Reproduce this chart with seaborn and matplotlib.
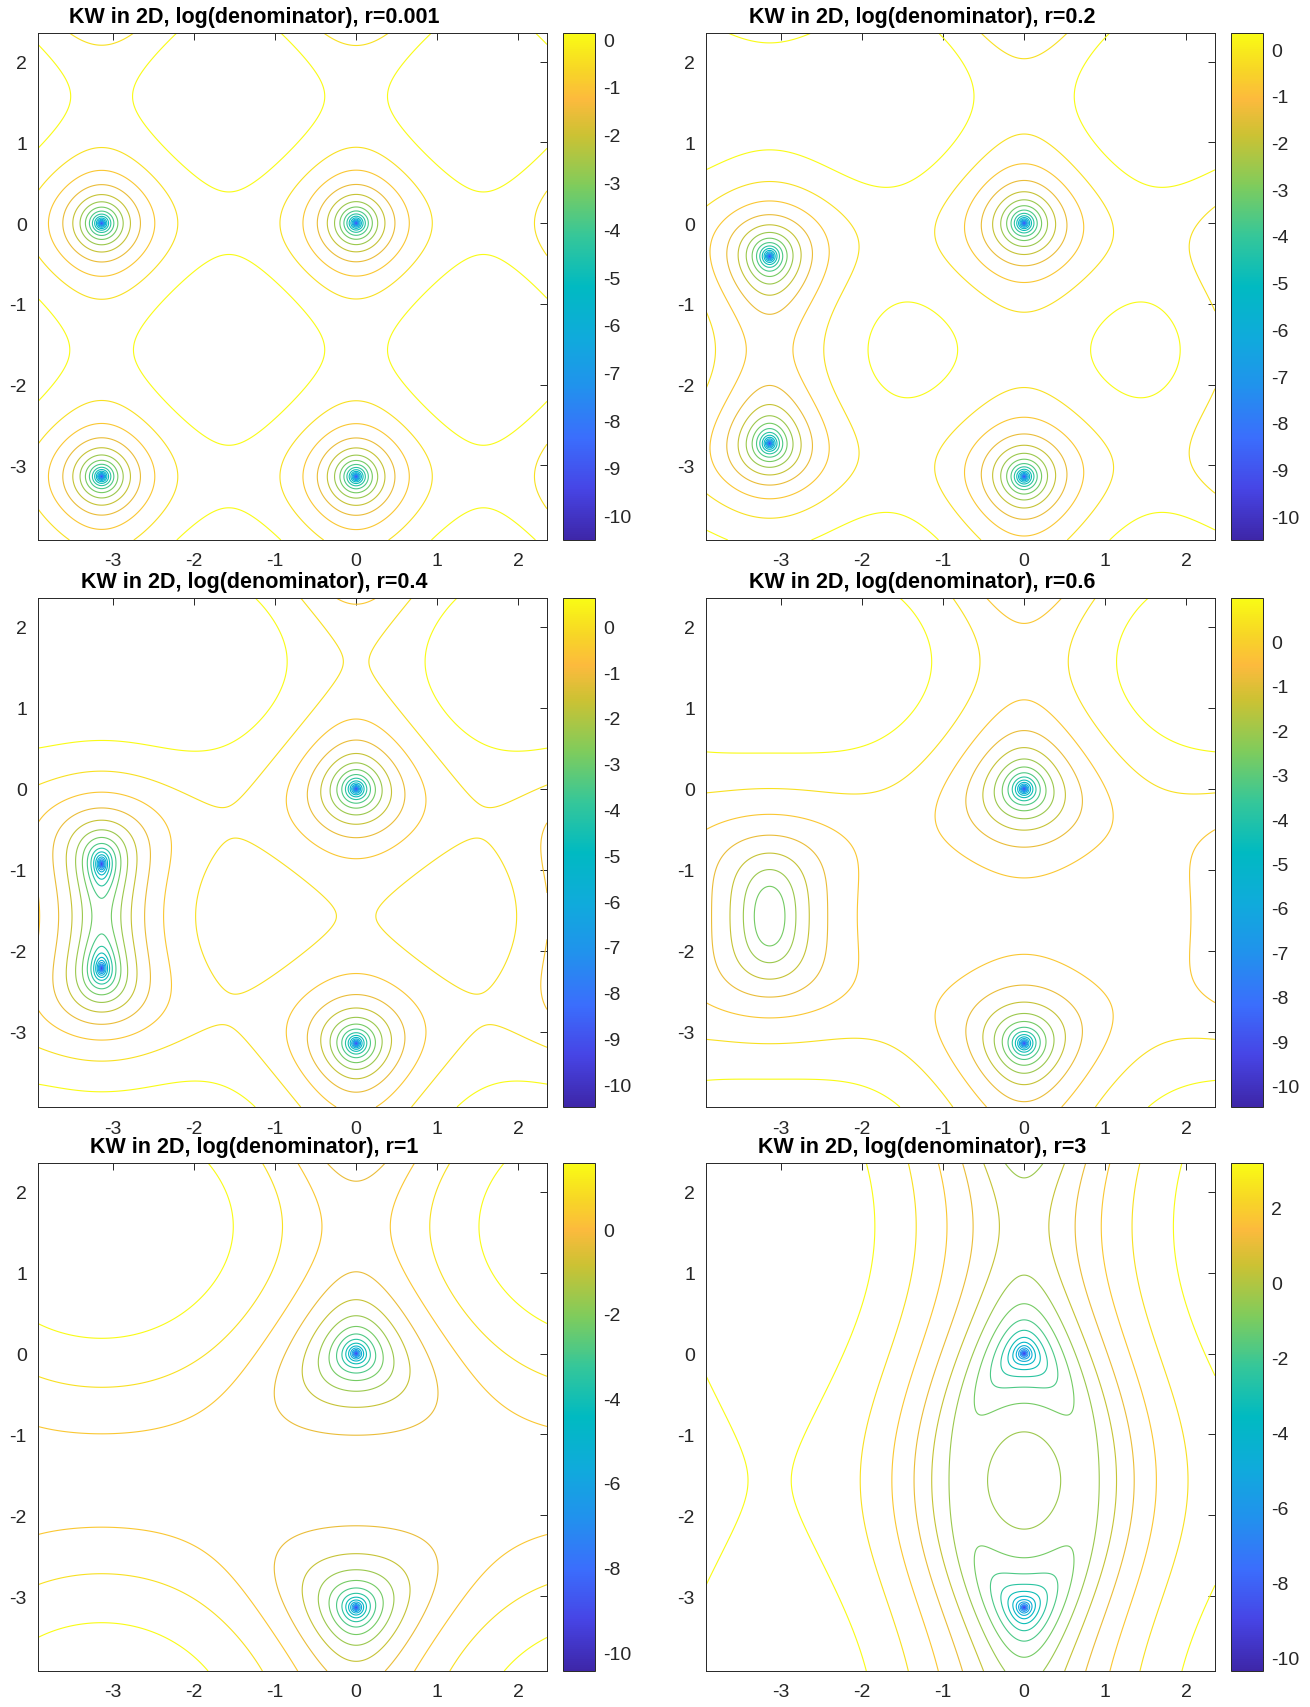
import numpy as np
import matplotlib
matplotlib.use("Agg")
import matplotlib.pyplot as plt
import seaborn as sns
from matplotlib.colors import LinearSegmentedColormap, Normalize
from matplotlib.cm import ScalarMappable

# ---- data ----
r_values = [0.001, 0.2, 0.4, 0.6, 1, 3]
r_labels = ["0.001", "0.2", "0.4", "0.6", "1", "3"]
title_prefix = "KW in 2D, log(denominator), r="
log_floor = -11.08          # lowest log value reached on the sampled grid
n_levels = 20               # contour lines per panel
cbar_ticks = [list(range(0, -11, -1)), list(range(0, -11, -1)),
              list(range(0, -11, -1)), list(range(0, -11, -1)),
              list(range(0, -11, -2)), list(range(2, -11, -2))]
axis_ticks = [-3, -2, -1, 0, 1, 2]
x_range = [-5 * np.pi / 4, 3 * np.pi / 4]
y_range = [-5 * np.pi / 4, 3 * np.pi / 4]

sns.set_style("white")
plt.rcParams['font.family'] = ['Liberation Sans', 'DejaVu Sans']

parula = LinearSegmentedColormap.from_list("parula", [
    (0.00, (0.2422, 0.1504, 0.6603)),
    (0.10, (0.2760, 0.2700, 0.9000)),
    (0.20, (0.2300, 0.4300, 0.9900)),
    (0.30, (0.1300, 0.5700, 0.9300)),
    (0.40, (0.0600, 0.6700, 0.8600)),
    (0.50, (0.0000, 0.7300, 0.7600)),
    (0.60, (0.2100, 0.7800, 0.6000)),
    (0.70, (0.5000, 0.8000, 0.3600)),
    (0.80, (0.8000, 0.7600, 0.2000)),
    (0.87, (0.9900, 0.7300, 0.2400)),
    (0.93, (0.9700, 0.8400, 0.1500)),
    (1.00, (0.9769, 0.9839, 0.0805)),
])

W, H = 1310, 1708
fig = plt.figure(figsize=(W / 100, H / 100), dpi=100)

cols = [(38, 547, 563, 595), (706, 1215, 1231, 1263)]
rows = [(34, 541), (599, 1108), (1164, 1672)]

x = np.linspace(x_range[0], x_range[1], 700)
y = np.linspace(y_range[0], y_range[1], 700)
X, Y = np.meshgrid(x, y)

tick_color = (0.15, 0.15, 0.15)

for i, r in enumerate(r_values):
    row, col = divmod(i, 2)
    ax0, ax1, cb0, cb1 = cols[col]
    y0, y1 = rows[row]
    ax = fig.add_axes([ax0 / W, 1 - y1 / H, (ax1 - ax0) / W, (y1 - y0) / H])
    cax = fig.add_axes([cb0 / W, 1 - y1 / H, (cb1 - cb0) / W, (y1 - y0) / H])

    D = np.sin(X) ** 2 + (np.sin(Y) + r * (1 - np.cos(X))) ** 2
    Z = np.log(np.maximum(D, np.exp(log_floor - 5)))
    levels = np.linspace(log_floor, Z.max(), n_levels + 2)[1:-1]
    norm = Normalize(vmin=levels[0], vmax=levels[-1])
    ax.contour(X, Y, Z, levels=levels, cmap=parula, norm=norm, linewidths=0.8)

    ax.set_xlim(x_range)
    ax.set_ylim(y_range)
    ax.set_xticks(axis_ticks)
    ax.set_yticks(axis_ticks)
    ax.set_xticklabels([str(t) for t in axis_ticks])
    ax.set_yticklabels([str(t) for t in axis_ticks])
    ax.tick_params(axis='both', direction='in', length=5, width=0.7,
                   colors=tick_color, labelsize=14, top=True, right=True)
    ax.tick_params(axis='x', pad=9)
    ax.tick_params(axis='y', pad=8)
    for s in ax.spines.values():
        s.set_color(tick_color)
        s.set_linewidth(0.7)
    ax.text(0.424, 1 + 11 / (y1 - y0), title_prefix + r_labels[i],
            transform=ax.transAxes, ha='center', va='baseline',
            fontsize=15.5, fontweight='bold', color='black')

    sm = ScalarMappable(norm=norm, cmap=parula)
    cb = fig.colorbar(sm, cax=cax)
    cb.set_ticks(cbar_ticks[i])
    cb.set_ticklabels([str(t) for t in cbar_ticks[i]])
    cb.ax.tick_params(direction='in', length=5, width=0.7, colors=tick_color,
                      labelsize=14, pad=6)
    cb.outline.set_edgecolor(tick_color)
    cb.outline.set_linewidth(0.7)

fig.savefig("out.png", dpi=100)
